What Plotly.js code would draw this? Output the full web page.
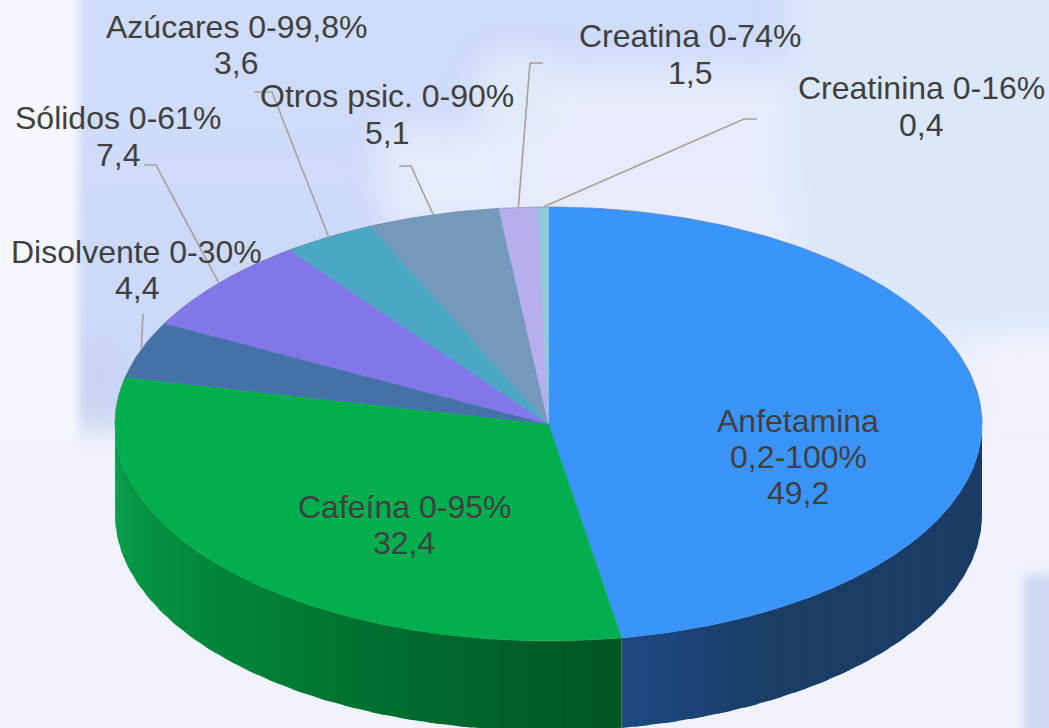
<!DOCTYPE html>
<html><head><meta charset="utf-8">
<script src="https://cdn.plot.ly/plotly-3.0.1.min.js"></script>
<style>
html,body{margin:0;padding:0;width:1049px;height:728px;overflow:hidden;background:#eef0fc}
#bg{position:absolute;left:0;top:0;width:1049px;height:728px;overflow:hidden}
#bg div{position:absolute;filter:blur(16px)}
#bg div.sharp{filter:blur(5px)}
#chart{position:absolute;left:0;top:0;width:1049px;height:728px}
</style></head><body>
<div id="bg">
<div style="left:60px;top:-40px;width:1040px;height:225px;background:#cfdcfa"></div>
<div style="left:60px;top:170px;width:440px;height:250px;background:#ccd9f9"></div>
<div style="left:480px;top:70px;width:330px;height:160px;background:#e7ebfb"></div>
<div style="left:790px;top:-40px;width:300px;height:380px;background:#dbe8f9"></div>
<div style="left:380px;top:130px;width:140px;height:100px;background:#e6ebfb"></div>
<div style="left:490px;top:55px;width:60px;height:60px;background:#dfeaf8"></div>
<div style="left:985px;top:340px;width:90px;height:240px;background:#f1f3fc"></div>
<div style="left:84px;top:340px;width:30px;height:90px;background:#c6d2ec"></div>
<div class="sharp" style="left:-20px;top:-20px;width:98px;height:470px;background:#f5f7fe"></div>
<div style="left:-40px;top:445px;width:1140px;height:330px;background:#f0f2fd"></div>
<div class="sharp" style="left:1024px;top:575px;width:60px;height:170px;background:#ccd8f0"></div>
</div>
<div id="chart"></div>
<script>
// Data
const categories = ["Anfetamina","Cafeína","Disolvente","Sólidos","Azúcares","Otros psic.","Creatina","Creatinina"];
const ranges     = ["0,2-100%","0-95%","0-30%","0-61%","0-99,8%","0-90%","0-74%","0-16%"];
const values     = [49.2,32.4,4.4,7.4,3.6,5.1,1.5,0.4];
const valueText  = ["49,2","32,4","4,4","7,4","3,6","5,1","1,5","0,4"];
const topColors  = ["#3b94fa","#00ae4e","#4472a8","#8177e8","#4aa8c4","#7499bc","#b7aeee","#8fc9dc"];

// Drawing geometry (pixel-unit axes)
const cx = 548.5, cy = 424, rx = 433.5, ry = 217, depth = 90;
const total = values.reduce((a,b)=>a+b,0);
const pt = (deg,dy=0)=>[cx+rx*Math.sin(deg*Math.PI/180), cy-ry*Math.cos(deg*Math.PI/180)+dy];

// Side-wall shading stops: [angle, r,g,b]
const sideStops = {
  0:[[90,26,60,100],[150,26,61,102],[171,28,74,130]],
  1:[[170,0,84,32],[190,0,100,42],[230,0,134,58],[270,12,162,76]]
};
function shade(i,t){
  const s=sideStops[i];
  for(let k=0;k<s.length-1;k++){
    if(t<=s[k+1][0]){
      const f=Math.max(0,(t-s[k][0])/(s[k+1][0]-s[k][0]));
      const c=[1,2,3].map(j=>Math.round(s[k][j]+f*(s[k+1][j]-s[k][j])));
      return `rgb(${c.join(",")})`;
    }
  }
  const l=s[s.length-1]; return `rgb(${l[1]},${l[2]},${l[3]})`;
}

const traces=[];
const starts=[]; let acc=0;
values.forEach(v=>{starts.push(acc/total*360); acc+=v;});
const ends=values.map((v,i)=>starts[i]+v/total*360);
const mids=values.map((v,i)=>(starts[i]+ends[i])/2);

// side wall bands: each band runs to the end of its slice, the next band paints over it
values.forEach((v,i)=>{
  const a=Math.max(starts[i],90), b=Math.min(ends[i],270);
  if(b<=a) return;
  const n=Math.ceil((b-a)/4);
  for(let k=0;k<n;k++){
    const t1=a+(b-a)*k/n, t2=Math.min(b,a+(b-a)*(k+1)/n+2), xs=[], ys=[];
    for(let j=0;j<=6;j++){const p=pt(t1+(t2-t1)*j/6); xs.push(p[0]); ys.push(p[1]);}
    for(let j=6;j>=0;j--){const p=pt(t1+(t2-t1)*j/6,depth); xs.push(p[0]); ys.push(p[1]);}
    xs.push(xs[0]); ys.push(ys[0]);
    const col=shade(i,(t1+t1+(b-a)/n)/2);
    traces.push({type:"scatter",mode:"lines",x:xs,y:ys,fill:"toself",fillcolor:col,line:{width:0},hoverinfo:"skip",showlegend:false});
  }
});

// top face wedges
values.forEach((v,i)=>{
  const xs=[cx], ys=[cy], n=Math.max(2,Math.ceil(ends[i]-starts[i]));
  for(let j=0;j<=n;j++){const p=pt(starts[i]+(ends[i]-starts[i])*j/n); xs.push(p[0]); ys.push(p[1]);}
  xs.push(cx); ys.push(cy);
  traces.push({type:"scatter",mode:"lines",x:xs,y:ys,fill:"toself",fillcolor:topColors[i],line:{color:topColors[i],width:0.5},name:categories[i],hoverinfo:"name",showlegend:false});
});

// faint rim along the back of the top face
(function(){
  const xs=[],ys=[];
  for(let t=270;t<=450;t+=2){const p=pt(t); xs.push(p[0]); ys.push(p[1]);}
  traces.push({type:"scatter",mode:"lines",x:xs,y:ys,line:{color:"rgba(110,110,110,0.35)",width:1},hoverinfo:"skip",showlegend:false});
})();

// leader lines: from the slice rim to the elbow next to the label
const elbows = {
  2:[[143,314]],
  3:[[156,165],[144,165]],
  4:[[272,92],[254,92]],
  5:[[411,166],[399,166]],
  6:[[530,63],[543,63]],
  7:[[744,119],[757,119]]
};
Object.keys(elbows).forEach(k=>{
  const p=pt(mids[k]);
  const path=[p].concat(elbows[k]);
  traces.push({type:"scatter",mode:"lines",x:path.map(q=>q[0]),y:path.map(q=>q[1]),line:{color:"#a5a29b",width:1.6},hoverinfo:"skip",showlegend:false});
});

// label anchor positions: centre x and the y of each line
const labelPos = [[798,[421,457,493]],[404,[507,543]],[136.5,[252,288]],[118,[118,155]],[236,[27,63]],[386.5,[96,133]],[690,[36,73]],[921,[88,125]]];
const labelLines = [
  [categories[0],ranges[0],valueText[0]],
  ...categories.slice(1).map((c,i)=>[c+" "+ranges[i+1],valueText[i+1]])
];
const annotations=[];
labelLines.forEach((lines,i)=>lines.forEach((t,j)=>{
  annotations.push({x:labelPos[i][0],y:labelPos[i][1][j],xref:"x",yref:"y",text:t,showarrow:false,xanchor:"center",yanchor:"middle",
    font:{family:"Liberation Sans, Arial, sans-serif",size:32,color:"#404040"}});
}));

const hidden={visible:false,fixedrange:true};
Plotly.newPlot("chart",traces,{
  width:1049,height:728,margin:{l:0,r:0,t:0,b:0},
  paper_bgcolor:"rgba(0,0,0,0)",plot_bgcolor:"rgba(0,0,0,0)",
  xaxis:Object.assign({range:[0,1049]},hidden),
  yaxis:Object.assign({range:[728,0]},hidden),
  showlegend:false,annotations
},{displayModeBar:false,staticPlot:true});
</script>
</body></html>
